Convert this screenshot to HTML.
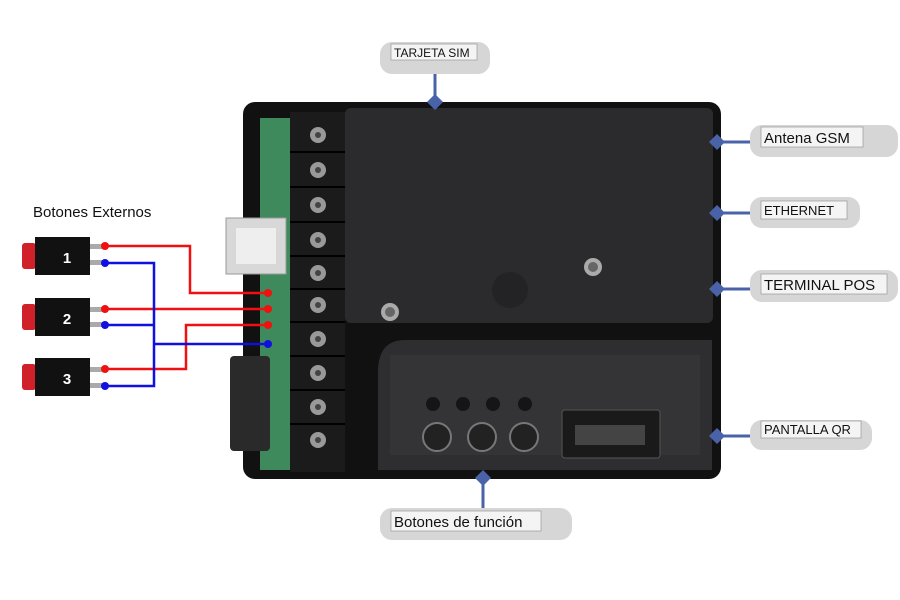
<!DOCTYPE html>
<html><head><meta charset="utf-8"><style>
body{margin:0;background:#fff}
svg{display:block;font-family:"Liberation Sans",sans-serif}
</style></head><body>
<svg width="900" height="600" viewBox="0 0 900 600">
<rect x="243" y="102" width="478" height="377" rx="12" fill="#111"/>
<rect x="345" y="108" width="368" height="215" rx="6" fill="#2b2b2d"/>
<circle cx="510" cy="290" r="18" fill="#232325"/>
<circle cx="593" cy="267" r="9" fill="#aaa"/><circle cx="593" cy="267" r="5" fill="#666"/>
<circle cx="390" cy="312" r="9" fill="#aaa"/><circle cx="390" cy="312" r="5" fill="#666"/>
<path d="M405 340 H712 V470 H378 V372 Q378 340 405 340Z" fill="#2e2e30"/>
<path d="M390 355 H700 V455 H390Z" fill="#343437"/>
<g fill="#151515"><circle cx="433" cy="404" r="7"/><circle cx="463" cy="404" r="7"/><circle cx="493" cy="404" r="7"/><circle cx="525" cy="404" r="7"/></g>
<g fill="#222" stroke="#777" stroke-width="2"><circle cx="437" cy="437" r="14"/><circle cx="482" cy="437" r="14"/><circle cx="524" cy="437" r="14"/></g>
<rect x="562" y="410" width="98" height="48" rx="3" fill="#1a1a1a" stroke="#555"/>
<rect x="575" y="425" width="70" height="20" fill="#444"/>
<rect x="260" y="118" width="32" height="352" fill="#3f8a5c"/>
<rect x="290" y="112" width="55" height="360" fill="#1b1b1b"/>
<g stroke="#000" stroke-width="2">
<line x1="290" y1="152" x2="345" y2="152"/><line x1="290" y1="187" x2="345" y2="187"/><line x1="290" y1="222" x2="345" y2="222"/><line x1="290" y1="256" x2="345" y2="256"/><line x1="290" y1="289" x2="345" y2="289"/><line x1="290" y1="322" x2="345" y2="322"/><line x1="290" y1="356" x2="345" y2="356"/><line x1="290" y1="390" x2="345" y2="390"/><line x1="290" y1="424" x2="345" y2="424"/>
</g>
<g fill="#999">
<circle cx="318" cy="135" r="8"/><circle cx="318" cy="170" r="8"/><circle cx="318" cy="205" r="8"/><circle cx="318" cy="240" r="8"/><circle cx="318" cy="273" r="8"/><circle cx="318" cy="305" r="8"/><circle cx="318" cy="339" r="8"/><circle cx="318" cy="373" r="8"/><circle cx="318" cy="407" r="8"/><circle cx="318" cy="440" r="8"/></g>
<g fill="#444">
<circle cx="318" cy="135" r="3"/><circle cx="318" cy="170" r="3"/><circle cx="318" cy="205" r="3"/><circle cx="318" cy="240" r="3"/><circle cx="318" cy="273" r="3"/><circle cx="318" cy="305" r="3"/><circle cx="318" cy="339" r="3"/><circle cx="318" cy="373" r="3"/><circle cx="318" cy="407" r="3"/><circle cx="318" cy="440" r="3"/></g>
<rect x="226" y="218" width="60" height="56" fill="#d8d8d8" stroke="#999"/>
<rect x="236" y="228" width="40" height="36" fill="#eee"/>
<rect x="230" y="356" width="40" height="95" rx="4" fill="#2a2a2a"/>
<text x="33" y="217" font-size="15" fill="#111">Botones Externos</text>
<g>
<rect x="22" y="243" width="14" height="26" rx="3" fill="#d0202a"/><rect x="35" y="237" width="55" height="38" fill="#111"/><rect x="90" y="244" width="14" height="5" fill="#aaa"/><rect x="90" y="260" width="14" height="5" fill="#aaa"/>
<text x="67" y="263" font-size="15" font-weight="bold" fill="#fff" text-anchor="middle">1</text>
<rect x="22" y="304" width="14" height="26" rx="3" fill="#d0202a"/><rect x="35" y="298" width="55" height="38" fill="#111"/><rect x="90" y="307" width="14" height="5" fill="#aaa"/><rect x="90" y="322" width="14" height="5" fill="#aaa"/>
<text x="67" y="324" font-size="15" font-weight="bold" fill="#fff" text-anchor="middle">2</text>
<rect x="22" y="364" width="14" height="26" rx="3" fill="#d0202a"/><rect x="35" y="358" width="55" height="38" fill="#111"/><rect x="90" y="367" width="14" height="5" fill="#aaa"/><rect x="90" y="383" width="14" height="5" fill="#aaa"/>
<text x="67" y="384" font-size="15" font-weight="bold" fill="#fff" text-anchor="middle">3</text>
</g>
<g fill="none" stroke-width="2.5">
<path d="M105 246 H190 V293 H268" stroke="#f01010"/>
<path d="M105 309 H268" stroke="#f01010"/>
<path d="M105 369 H186 V325 H268" stroke="#f01010"/>
<path d="M105 263 H154 V386 H105 M105 325 H154 M154 344 H268" stroke="#1010e0"/>
</g>
<g fill="#f01010"><circle cx="105" cy="246" r="4"/><circle cx="105" cy="309" r="4"/><circle cx="105" cy="369" r="4"/><circle cx="268" cy="293" r="4"/><circle cx="268" cy="309" r="4"/><circle cx="268" cy="325" r="4"/></g>
<g fill="#1010e0"><circle cx="105" cy="263" r="4"/><circle cx="105" cy="325" r="4"/><circle cx="105" cy="386" r="4"/><circle cx="268" cy="344" r="4"/></g>
<g stroke="#4a63a8" stroke-width="3">
<line x1="435" y1="74" x2="435" y2="102"/><line x1="718" y1="142" x2="752" y2="142"/><line x1="718" y1="213" x2="752" y2="213"/><line x1="718" y1="289" x2="752" y2="289"/><line x1="718" y1="436" x2="752" y2="436"/><line x1="483" y1="478" x2="483" y2="510"/>
</g>
<g fill="#4a63a8">
<path d="M435 94 l8 8 -8 8 -8 -8Z"/><path d="M717 134 l8 8 -8 8 -8 -8Z"/><path d="M717 205 l8 8 -8 8 -8 -8Z"/><path d="M717 281 l8 8 -8 8 -8 -8Z"/><path d="M717 428 l8 8 -8 8 -8 -8Z"/><path d="M483 470 l8 8 -8 8 -8 -8Z"/>
</g>
<g fill="#d6d6d6">
<rect x="380" y="42" width="110" height="32" rx="12"/><rect x="750" y="125" width="148" height="32" rx="12"/><rect x="750" y="197" width="110" height="31" rx="12"/><rect x="750" y="270" width="148" height="32" rx="12"/><rect x="750" y="420" width="122" height="30" rx="12"/><rect x="380" y="508" width="192" height="32" rx="12"/>
</g>
<g fill="#f4f4f4" stroke="#999" stroke-width="0.7">
<rect x="391" y="44" width="86" height="16"/><rect x="761" y="127" width="102" height="20"/><rect x="761" y="201" width="86" height="18"/><rect x="761" y="274" width="126" height="20"/><rect x="761" y="421" width="100" height="17"/><rect x="391" y="511" width="150" height="20"/>
</g>
<g fill="#111">
<text x="394" y="57" font-size="12">TARJETA SIM</text>
<text x="764" y="143" font-size="15">Antena GSM</text>
<text x="764" y="215" font-size="13">ETHERNET</text>
<text x="764" y="290" font-size="15">TERMINAL POS</text>
<text x="764" y="434" font-size="13">PANTALLA QR</text>
<text x="394" y="527" font-size="15">Botones de función</text>
</g>
</svg>
</body></html>
